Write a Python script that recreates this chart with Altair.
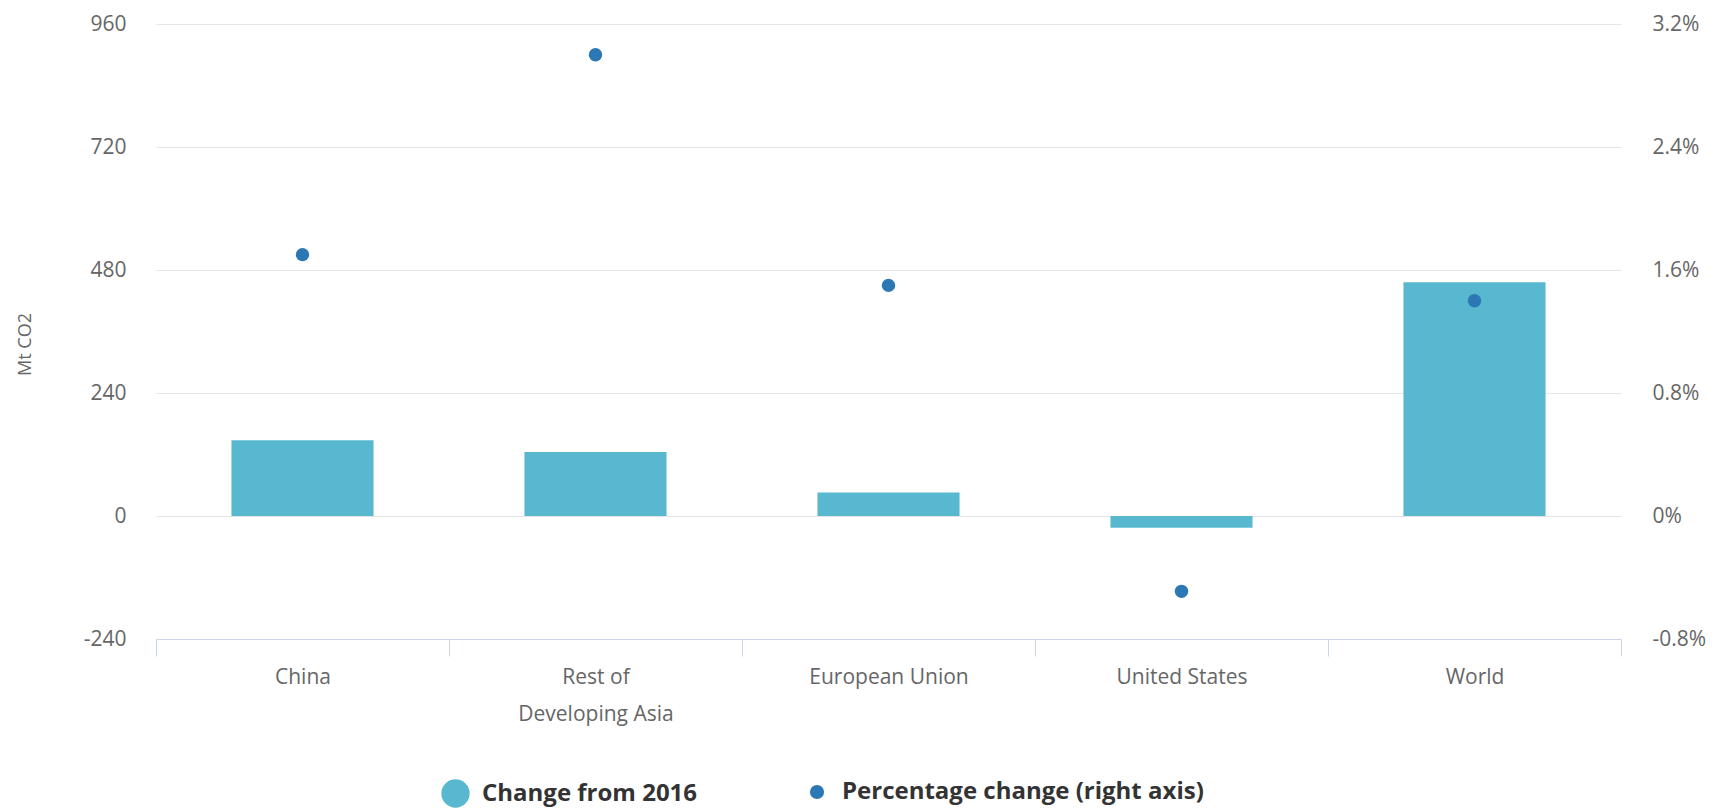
import altair as alt
import pandas as pd

# Change in energy-related CO2 emissions, 2017 vs 2016
regions = ["China", "Rest of Developing Asia", "European Union", "United States", "World"]
change_mt = [148, 125, 46, -23, 456]          # Mt CO2 (left axis)
change_pct = [1.7, 3.0, 1.5, -0.49, 1.4]      # % change (right axis)

bar_label = "Change from 2016"
dot_label = "Percentage change (right axis)"

left_ticks = [-240, 0, 240, 480, 720, 960]
right_ticks = [-0.8, 0, 0.8, 1.6, 2.4, 3.2]

df = pd.DataFrame({
    "region": regions,
    "change": change_mt,
    "pct": change_pct,
    "bar_series": bar_label,
    "dot_series": dot_label,
})

FONT = "Open Sans"
LABEL = "#666666"
BAR = "#58b8d0"
DOT = "#2b78b4"
W, H = 1465, 615

x = alt.X(
    "region:N",
    sort=regions,
    scale=alt.Scale(paddingInner=0, paddingOuter=0),
    axis=alt.Axis(
        title=None,
        tickBand="extent",
        labelAngle=0,
        grid=False,
        domainColor="#ccd6eb",
        tickColor="#ccd6eb",
        tickSize=17,
        labelPadding=10,
        labelFontSize=21,
        labelFont=FONT,
        labelColor=LABEL,
        labelLineHeight=37,
        labelExpr="datum.label == 'Rest of Developing Asia' ? ['Rest of', 'Developing Asia'] : datum.label",
    ),
)

legend_common = dict(
    orient="none",
    direction="horizontal",
    title=None,
    symbolType="circle",
    symbolStrokeWidth=0,
    labelFont=FONT,
    labelFontSize=24,
    labelFontWeight="bold",
    labelColor="#333333",
    labelLimit=0,
    padding=0,
)

bars = alt.Chart(df).mark_bar(width=alt.RelativeBandSize(0.485)).encode(
    x=x,
    y=alt.Y(
        "change:Q",
        scale=alt.Scale(domain=[-240, 960], nice=False, zero=True),
        axis=alt.Axis(
            values=left_ticks,
            title="Mt CO2",
            titleFont=FONT,
            titleFontSize=18,
            titleFontWeight="normal",
            titleColor=LABEL,
            titleAngle=270,
            titleAlign="center",
            titleBaseline="middle",
            titleX=-131,
            titleY=320,
            domain=False,
            ticks=False,
            labelPadding=30,
            labelFont=FONT,
            labelFontSize=21,
            labelColor=LABEL,
            labelExpr="(datum.value < 0 ? '-' : '') + format(abs(datum.value), 'd')",
            gridColor="#e6e6e6",
            gridWidth=1,
        ),
    ),
    color=alt.Color(
        "bar_series:N",
        scale=alt.Scale(domain=[bar_label], range=[BAR]),
        legend=alt.Legend(legendX=285, legendY=755, symbolSize=800, labelOffset=12, **legend_common),
    ),
)

dots = alt.Chart(df).mark_circle(size=180, opacity=1).encode(
    x=x,
    y=alt.Y(
        "pct:Q",
        scale=alt.Scale(domain=[-0.8, 3.2], nice=False),
        axis=alt.Axis(
            orient="right",
            values=right_ticks,
            title=None,
            grid=False,
            domain=False,
            ticks=False,
            labelPadding=31,
            labelFont=FONT,
            labelFontSize=21,
            labelColor=LABEL,
            labelExpr="datum.value == 0 ? '0%' : (datum.value < 0 ? '-' : '') + format(abs(datum.value), '.1f') + '%'",
        ),
    ),
    fill=alt.Fill(
        "dot_series:N",
        scale=alt.Scale(domain=[dot_label], range=[DOT]),
        legend=alt.Legend(legendX=649, legendY=756, symbolSize=200, labelOffset=13, **legend_common),
    ),
)

chart = (
    alt.layer(bars, dots)
    .resolve_scale(y="independent", color="independent", fill="independent")
    .properties(
        width=W,
        height=H,
        padding={"left": 156, "top": 24, "right": 1714 - 156 - W, "bottom": 811 - 24 - H},
        autosize=alt.AutoSizeParams(type="none"),
        background="white",
    )
    .configure_view(stroke=None)
)

chart.save("out.html", embed_options={"renderer": "svg", "actions": False})
